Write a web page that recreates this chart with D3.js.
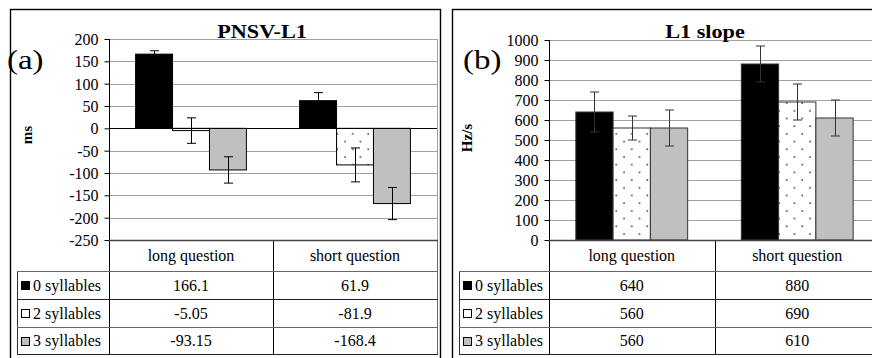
<!DOCTYPE html>
<html>
<head>
<meta charset="utf-8">
<script src="https://cdn.jsdelivr.net/npm/d3@7"></script>
<style>
  html, body { margin: 0; padding: 0; background: #fff; }
  svg { display: block; }
</style>
</head>
<body>
<svg id="chart" width="872" height="358"></svg>
<script>
// ---------- DATA ----------
const categories = ["long question", "short question"];
const seriesNames = ["0 syllables", "2 syllables", "3 syllables"];

// Panel (a) PNSV-L1 (ms)
const pnsvTitle = "PNSV-L1";
const pnsvUnit = "ms";
const pnsvLong = [166.1, -5.05, -93.15];
const pnsvShort = [61.9, -81.9, -168.4];
const pnsvErrLong = [7.5, 28.5, 29.5];
const pnsvErrShort = [18, 38, 36];
const pnsvLabelsLong = ["166.1", "-5.05", "-93.15"];
const pnsvLabelsShort = ["61.9", "-81.9", "-168.4"];
const pnsvTicks = [200, 150, 100, 50, 0, -50, -100, -150, -200, -250];

// Panel (b) L1 slope (Hz/s)
const slopeTitle = "L1 slope";
const slopeUnit = "Hz/s";
const slopeLong = [640, 560, 560];
const slopeShort = [880, 690, 610];
const slopeErrLong = [100, 60, 90];
const slopeErrShort = [90, 90, 90];
const slopeLabelsLong = ["640", "560", "560"];
const slopeLabelsShort = ["880", "690", "610"];
const slopeTicks = [1000, 900, 800, 700, 600, 500, 400, 300, 200, 100, 0];

// ---------- DRAW ----------
const FONT = '"Liberation Serif", "Times New Roman", Times, serif';
const svg = d3.select("#chart");
const defs = svg.append("defs");
const pat = defs.append("pattern")
  .attr("id", "dots").attr("patternUnits", "userSpaceOnUse")
  .attr("width", 15.5).attr("height", 15.4);
pat.append("rect").attr("width", 15.5).attr("height", 15.4).attr("fill", "#fff");
pat.append("circle").attr("cx", 4).attr("cy", 3).attr("r", 0.85).attr("fill", "#222");
pat.append("circle").attr("cx", 11.75).attr("cy", 10.7).attr("r", 0.85).attr("fill", "#222");

const fills = ["#000000", "url(#dots)", "#c0c0c0"];
const swatchFills = ["#000000", "#ffffff", "#c0c0c0"];

function txt(sel, size, weight) {
  return sel.style("font-family", FONT).style("font-size", size + "px")
    .style("font-weight", weight || "normal").style("fill", "#000");
}

function drawPanel(cfg) {
  const g = svg.append("g");
  // outer frame
  g.append("rect")
    .attr("x", cfg.frame[0] + 0.5).attr("y", cfg.frame[1] + 0.5)
    .attr("width", cfg.frame[2] - cfg.frame[0]).attr("height", cfg.frame[3] - cfg.frame[1])
    .attr("fill", "none").attr("stroke", "#000").attr("stroke-width", 1.4);

  const y = d3.scaleLinear().domain(cfg.domain).range([cfg.plotBottom, cfg.plotTop]);
  const x = d3.scaleBand().domain(categories).range([cfg.plotLeft, cfg.plotRight]).padding(0);
  const xs = d3.scaleBand().domain(seriesNames).range([0, x.bandwidth()])
    .paddingInner(0).paddingOuter(cfg.outerPad);

  // gridlines
  g.append("g").selectAll("line").data(cfg.ticks.filter(t => t !== cfg.domain[0] && t !== 0))
    .join("line")
    .attr("x1", cfg.plotLeft).attr("x2", cfg.plotRight)
    .attr("y1", d => Math.round(y(d)) + 0.5).attr("y2", d => Math.round(y(d)) + 0.5)
    .attr("stroke", "#a0a0a0").attr("stroke-width", 1);
  // right border of plot area
  g.append("line")
    .attr("x1", cfg.plotRight + 0.5).attr("x2", cfg.plotRight + 0.5)
    .attr("y1", y(cfg.domain[1])).attr("y2", cfg.plotBottom)
    .attr("stroke", "#a0a0a0");

  // bars
  const rows = categories.map((c, i) => ({ cat: c, vals: cfg.values[i], errs: cfg.errors[i] }));
  rows.forEach(r => {
    r.vals.forEach((v, k) => {
      const bx = x(r.cat) + xs(seriesNames[k]);
      const y0 = y(Math.max(0, v)), y1 = y(Math.min(0, v));
      g.append("rect")
        .attr("x", bx).attr("y", y0)
        .attr("width", xs.bandwidth()).attr("height", Math.max(0, y1 - y0))
        .attr("fill", fills[k]).attr("stroke", cfg.barStroke).attr("stroke-width", 1);
    });
  });
  // error bars
  rows.forEach(r => {
    r.vals.forEach((v, k) => {
      const cx = Math.round(x(r.cat) + xs(seriesNames[k]) + xs.bandwidth() / 2) + 0.5;
      const e = r.errs[k];
      const top = y(v + e), bot = y(v - e);
      const eg = g.append("g").attr("stroke", cfg.errStroke).attr("stroke-width", 1);
      eg.append("line").attr("x1", cx).attr("x2", cx).attr("y1", top).attr("y2", bot);
      eg.append("line").attr("x1", cx - 4.5).attr("x2", cx + 4.5).attr("y1", top).attr("y2", top);
      eg.append("line").attr("x1", cx - 4.5).attr("x2", cx + 4.5).attr("y1", bot).attr("y2", bot);
    });
  });

  // zero line
  g.append("line")
    .attr("x1", cfg.plotLeft).attr("x2", cfg.plotRight)
    .attr("y1", Math.round(y(0)) + 0.5).attr("y2", Math.round(y(0)) + 0.5)
    .attr("stroke", "#000");

  // y axis
  const axis = d3.axisLeft(y).tickValues(cfg.ticks).tickSize(5).tickPadding(6)
    .tickFormat(d => d < 0 ? "-" + Math.abs(d) : String(d));
  const ag = g.append("g").attr("transform", `translate(${cfg.plotLeft + 0.5},0)`).call(axis);
  ag.attr("font-family", null).attr("font-size", null);
  ag.select(".domain").attr("stroke", "#000").attr("d", `M0,${y(cfg.domain[1])}V${cfg.plotBottom}`);
  ag.selectAll(".tick line").attr("stroke", "#000");
  txt(ag.selectAll(".tick text"), 16).attr("dy", "0.34em");

  // axis unit label
  txt(g.append("text"), 15, "bold")
    .attr("transform", `translate(${cfg.unitX},${cfg.unitY}) rotate(-90)`)
    .attr("text-anchor", "middle")
    .text(cfg.unit);

  // title (slightly widened, as in the reference)
  txt(g.append("text"), 19, "bold")
    .attr("transform", `translate(${cfg.titleX},38) scale(1.17,1)`)
    .attr("text-anchor", "middle")
    .text(cfg.title);
  // panel letter
  txt(g.append("text"), 27)
    .attr("transform", `translate(${cfg.letterX},69) scale(1.22,1)`)
    .text(cfg.letter);

  // data table
  const rowY = [cfg.plotBottom, 271, 299, 327, 354];
  const tg = g.append("g");
  [cfg.plotLeft, x(categories[1]), cfg.plotRight].forEach((vx, i) => {
    tg.append("line").attr("x1", Math.round(vx) + 0.5).attr("x2", Math.round(vx) + 0.5)
      .attr("y1", rowY[0]).attr("y2", rowY[4])
      .attr("stroke", i === 2 ? "#666" : "#000");
  });
  tg.append("line").attr("x1", cfg.tableLeft + 0.5).attr("x2", cfg.tableLeft + 0.5)
    .attr("y1", rowY[1]).attr("y2", rowY[4]).attr("stroke", "#333");
  [1, 2, 3, 4].forEach(i => {
    tg.append("line").attr("x1", cfg.tableLeft).attr("x2", cfg.plotRight + 1)
      .attr("y1", rowY[i] + 0.5).attr("y2", rowY[i] + 0.5)
      .attr("stroke", i === 2 || i === 4 ? "#222" : "#666");
  });
  tg.append("line").attr("x1", cfg.plotLeft).attr("x2", cfg.plotRight + 1)
    .attr("y1", rowY[0] + 0.5).attr("y2", rowY[0] + 0.5).attr("stroke", "#444").attr("stroke-width", 1.5);

  categories.forEach(c => {
    txt(tg.append("text"), 16).attr("x", x(c) + x.bandwidth() / 2).attr("y", (rowY[0] + rowY[1]) / 2 + 5.5)
      .attr("text-anchor", "middle").text(c);
  });
  seriesNames.forEach((s, k) => {
    const cy = (rowY[k + 1] + rowY[k + 2]) / 2;
    tg.append("rect").attr("x", cfg.tableLeft + 4.5).attr("y", Math.round(cy - 4) + 0.5)
      .attr("width", 8).attr("height", 8)
      .attr("fill", swatchFills[k]).attr("stroke", "#000");
    txt(tg.append("text"), 16).attr("x", cfg.tableLeft + 16).attr("y", cy + 5.5).text(s);
    categories.forEach((c, i) => {
      txt(tg.append("text"), 16).attr("x", x(c) + x.bandwidth() / 2).attr("y", cy + 5.5)
        .attr("text-anchor", "middle")
        .text(cfg.labels[i][k]);
    });
  });
}

drawPanel({
  frame: [10, 9, 440, 380],
  plotLeft: 109, plotRight: 437, plotTop: 39, plotBottom: 240,
  tableLeft: 17,
  domain: [-250, 200], ticks: pnsvTicks,
  outerPad: 0.72,
  values: [pnsvLong, pnsvShort], errors: [pnsvErrLong, pnsvErrShort],
  labels: [pnsvLabelsLong, pnsvLabelsShort],
  title: pnsvTitle, titleX: 262, unit: pnsvUnit, unitX: 32, unitY: 135,
  letter: "(a)", letterX: 7,
  barStroke: "#000", errStroke: "#000"
});

drawPanel({
  frame: [452, 9, 900, 380],
  plotLeft: 549, plotRight: 880, plotTop: 40, plotBottom: 240,
  tableLeft: 459,
  domain: [0, 1000], ticks: slopeTicks,
  outerPad: 0.72,
  values: [slopeLong, slopeShort], errors: [slopeErrLong, slopeErrShort],
  labels: [slopeLabelsLong, slopeLabelsShort],
  title: slopeTitle, titleX: 705, unit: slopeUnit, unitX: 472, unitY: 138,
  letter: "(b)", letterX: 463,
  barStroke: "#333", errStroke: "#333"
});
</script>
</body>
</html>
